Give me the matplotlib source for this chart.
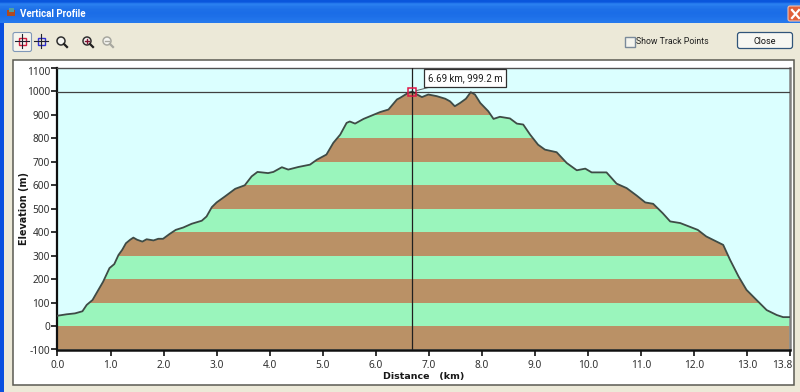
import numpy as np
import matplotlib
matplotlib.use("Agg")
import matplotlib.pyplot as plt
from matplotlib.patches import Rectangle, Circle, FancyBboxPatch
from matplotlib.lines import Line2D
from matplotlib.transforms import ScaledTranslation

# ---- data ----
distance_km = [0.00, 0.17, 0.33, 0.47, 0.55, 0.66, 0.77, 0.86, 0.98, 1.07, 1.15, 1.22, 1.29, 1.37, 1.43,
               1.50, 1.60, 1.68, 1.81, 1.90, 1.99, 2.11, 2.23, 2.37, 2.53, 2.72, 2.81, 2.91, 3.00, 3.16,
               3.35, 3.53, 3.66, 3.77, 3.97, 4.07, 4.23, 4.35, 4.54, 4.76, 4.89, 5.07, 5.20, 5.33, 5.45,
               5.51, 5.61, 5.77, 5.92, 6.08, 6.24, 6.40, 6.46, 6.61, 6.69, 6.78, 6.87, 6.99, 7.15, 7.31,
               7.40, 7.49, 7.59, 7.70, 7.79, 7.87, 7.97, 8.12, 8.22, 8.34, 8.53, 8.66, 8.78, 8.91, 9.06,
               9.19, 9.41, 9.60, 9.79, 9.95, 10.07, 10.35, 10.54, 10.73, 10.92, 11.08, 11.23, 11.41, 11.55,
               11.74, 12.07, 12.23, 12.55, 12.68, 12.84, 12.99, 13.21, 13.37, 13.56, 13.68, 13.80]
elevation_m = [44, 50, 54, 63, 90, 111, 154, 189, 247, 264, 303, 325, 353, 368, 377,
               368, 360, 370, 365, 372, 372, 392, 410, 420, 436, 449, 467, 507, 527, 553,
               585, 600, 638, 657, 652, 657, 677, 667, 678, 688, 709, 731, 781, 816, 866,
               872, 863, 883, 897, 912, 923, 966, 973, 994, 999.2, 987, 976, 987, 980, 969,
               958, 937, 951, 969, 997, 987, 951, 916, 883, 892, 885, 863, 859, 816, 773,
               752, 741, 695, 664, 671, 655, 655, 607, 588, 556, 527, 521, 481, 446,
               439, 410, 382, 346, 282, 211, 154, 104, 68, 47, 38, 38]
x_ticks = [float(v) for v in range(14)] + [13.8]
x_tick_labels = ["0.0", "1.0", "2.0", "3.0", "4.0", "5.0", "6.0", "7.0", "8.0", "9.0", "10.0",
                 "11.0", "12.0", "13.0", "13.8"]
y_ticks = list(range(-100, 1101, 100))
band_edges = list(range(-100, 1101, 100))
cursor_km = 6.69
cursor_m = 999.2
cursor_label = "6.69 km, 999.2 m"

W, H = 800, 392
FACE = "#ECE9D8"
UI = "Roboto"
fig = plt.figure(figsize=(W / 100, H / 100), dpi=100, facecolor=FACE)

# ---- window chrome in pixel coordinates ----
c = fig.add_axes([0, 0, 1, 1], zorder=0)
c.set_xlim(0, W); c.set_ylim(H, 0); c.axis("off")
c.imshow(np.array([[0.0], [1.0], [0.75], [0.6], [0.55], [0.6], [0.7], [0.85]]),
         extent=(0, W, 23, 0), aspect="auto", zorder=1,
         cmap=matplotlib.colors.LinearSegmentedColormap.from_list("t", ["#0A56DC", "#2A80F0"]))
c.set_xlim(0, W); c.set_ylim(H, 0)
c.add_patch(Rectangle((0, 23), 3.5, H - 23, fc="#0A50E0", ec="none", zorder=1))
# title icon + title
c.add_patch(Rectangle((7, 10), 8, 6, fc="#B04A20", ec="none", zorder=2))
c.add_patch(Rectangle((9, 8), 5, 4, fc="#50A0A0", ec="none", zorder=3))
c.text(20, 13.5, "Vertical Profile", color="white", fontsize=7, fontweight="bold",
       family="Roboto", va="center", ha="left", zorder=3)
# close box
c.add_patch(FancyBboxPatch((788, 6), 16, 15, boxstyle="round,pad=0,rounding_size=2",
                           fc="#E0603A", ec="#F0C0B0", lw=0.8, zorder=2))
c.add_line(Line2D([792, 799], [10, 18], color="white", lw=1.6, zorder=3))
c.add_line(Line2D([792, 799], [18, 10], color="white", lw=1.6, zorder=3))
# toolbar
c.add_patch(FancyBboxPatch((13, 32.5), 18.5, 19, boxstyle="round,pad=0,rounding_size=2",
                           fc="#F6F5EE", ec="#8098B8", lw=0.8, zorder=2))
for cx, col in [(22, "#D02040"), (41, "#3030D0")]:
    c.add_patch(Rectangle((cx - 3.5, 37.5), 7, 7, fc="none", ec=col, lw=1, zorder=3))
    c.add_line(Line2D([cx - 7, cx + 7], [41, 41], color="#202030", lw=0.8, zorder=4))
    c.add_line(Line2D([cx, cx], [34, 48], color="#202030", lw=0.8, zorder=4))
for cx, ec, hcol in [(61, "#303030", "#202020"), (87, "#303030", "#202020"), (107, "#A8A8A0", "#A8A8A0")]:
    c.add_patch(Circle((cx, 41), 4, fc="#F4F4F0", ec=ec, lw=1.1, zorder=3))
    c.add_line(Line2D([cx + 3, cx + 6], [44, 47], color=hcol, lw=1.6, zorder=3))
c.add_line(Line2D([85, 89], [41, 41], color="#801030", lw=1, zorder=4))
c.add_line(Line2D([87, 87], [39, 43], color="#801030", lw=1, zorder=4))
c.add_line(Line2D([105, 109], [41, 41], color="#A8A8A0", lw=1, zorder=4))
# checkbox + button
c.add_patch(Rectangle((624.5, 36.5), 10, 10, fc="#F4F4EE", ec="#7A8A9A", lw=1, zorder=2))
c.text(636, 41.5, "Show Track Points", fontsize=6.3, family=UI, color="#202020",
       va="center", ha="left", zorder=3)
c.add_patch(FancyBboxPatch((737.5, 32.5), 55, 16, boxstyle="round,pad=0,rounding_size=2.5",
                           fc="#F7F7F2", ec="#30557A", lw=0.9, zorder=2))
c.text(764.5, 41, "Close", fontsize=6.5, family=UI, color="#101010",
       va="center", ha="center", zorder=3)
# white panel
c.add_patch(Rectangle((12.5, 59.5), 781, 325, fc="white", ec="#5A5A52", lw=1.1, zorder=1))

# ---- plot ----
L, R, T, B = 57.5, 789.5, 68, 349.5
ax = fig.add_axes([L / W, (H - B) / H, (R - L) / W, (B - T) / H], zorder=2)
ax.set_facecolor("#DBFFFF")
ax.set_xlim(0, 13.8)
ax.set_ylim(-100, 1100)

area = ax.fill_between(distance_km, -100, elevation_m, facecolor="none", edgecolor="none")
clip_path = area.get_paths()[0]
clip_tr = area.get_transform()
for i in range(len(band_edges) - 1):
    col = "#BA9166" if i % 2 == 0 else "#9AF5BC"
    sp = ax.axhspan(band_edges[i], band_edges[i + 1], facecolor=col, edgecolor="none", zorder=1)
    sp.set_clip_path(clip_path, clip_tr)

ax.plot(distance_km, elevation_m, color="#3E4B46", lw=1.3, zorder=3, solid_joinstyle="round")
ax.axvline(cursor_km, color="#202020", lw=0.9, zorder=4)
ax.axhline(cursor_m, color="#404040", lw=0.9, zorder=4)
ax.plot([cursor_km], [cursor_m], marker="s", ms=6, mfc="none", mec="#E01848", mew=1.1, zorder=5)
ax.plot([cursor_km], [cursor_m], marker="+", ms=4, mec="#202020", mew=0.8, zorder=6)
ax.annotate(cursor_label, xy=(cursor_km, cursor_m), xytext=(465, H - 78), textcoords="figure pixels",
            ha="center", va="center", fontsize=7, family=UI, color="#202020", zorder=7,
            bbox=dict(boxstyle="square,pad=0.4", fc="white", ec="#303030", lw=0.9),
            arrowprops=dict(arrowstyle="-", color="#606060", lw=0.7, shrinkA=0, shrinkB=3),
            annotation_clip=False)

ax.set_xticks(x_ticks, x_tick_labels)
ax.set_yticks(y_ticks, [str(v) for v in y_ticks])
ax.tick_params(axis="both", direction="out", length=4, width=1.2, color="#101010", labelcolor="#303030",
               labelsize=7.3)
ax.tick_params(axis="x", pad=3.5)
ax.tick_params(axis="y", pad=1.5)
for lab in ax.get_xticklabels() + ax.get_yticklabels():
    lab.set_family("Noto Sans")
# the last x label and the top y label are pulled inwards, as in the reference
last_x = ax.get_xticklabels()[-1]
last_x.set_ha("right")
last_x.set_transform(last_x.get_transform() + ScaledTranslation(2.5 / 100, 0, fig.dpi_scale_trans))
top_y = ax.get_yticklabels()[-1]
top_y.set_transform(top_y.get_transform() + ScaledTranslation(0, -3 / 100, fig.dpi_scale_trans))
for side, col, lw in [("left", "#101010", 1.6), ("bottom", "#101010", 1.8), ("top", "#505050", 1.0),
                      ("right", "#808080", 1.8)]:
    ax.spines[side].set_color(col)
    ax.spines[side].set_linewidth(lw)
ax.set_xlabel("Distance   (km)", fontsize=6.8, fontweight="bold", family="DejaVu Sans", color="#181818", labelpad=0.5)
ax.set_ylabel("Elevation (m)", fontsize=6.9, fontweight="bold", family="DejaVu Sans", color="#181818", labelpad=-1.5)

fig.savefig("out.png", dpi=100, facecolor=FACE)
